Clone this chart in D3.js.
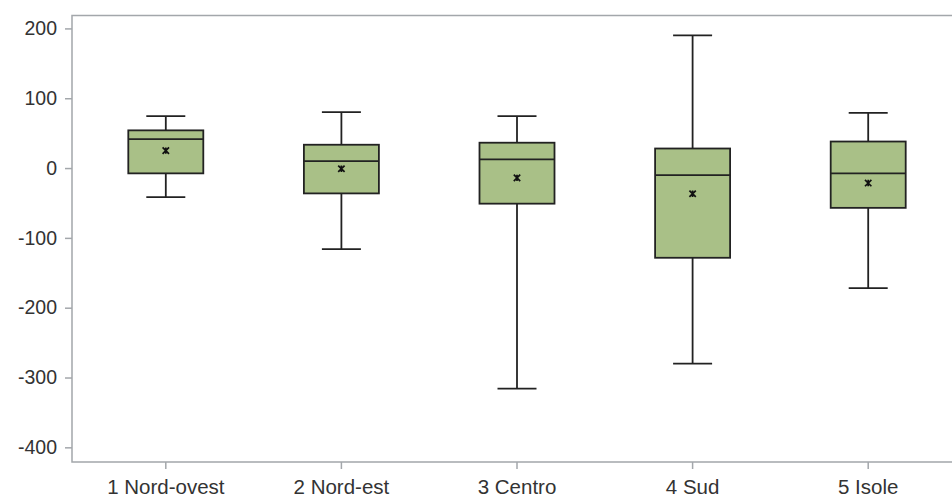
<!DOCTYPE html>
<html>
<head>
<meta charset="utf-8">
<script src="https://cdn.jsdelivr.net/npm/d3@7"></script>
<style>
  body { margin: 0; background: #fff; }
  svg { display: block; font-family: Roboto, "Noto Sans", sans-serif; }
</style>
</head>
<body>
<svg id="drawing_region"></svg>
<script>
// box statistics per region
const categories = ['1 Nord-ovest', '2 Nord-est', '3 Centro', '4 Sud', '5 Isole'];
const whiskerLow  = [-41.5, -116, -316, -280, -172];
const q1          = [-7.6, -36.3, -51, -128.5, -57];
const median      = [41.5, 10, 12.4, -10, -7.6];
const q3          = [54, 33.4, 36.3, 28, 38];
const whiskerHigh = [74.5, 80, 74.5, 190, 79];
const mean        = [25, -1, -14, -36.8, -21.5];
const yTicks = [200, 100, 0, -100, -200, -300, -400];

const data = categories.map((c, i) => ({
    name: c,
    lo: whiskerLow[i], q1: q1[i], med: median[i],
    q3: q3[i], hi: whiskerHigh[i], mean: mean[i]
}));

const width = 952, height = 497;
const margin = {top: 15.5, left: 72, bottom: 35};

const svg = d3.select('#drawing_region')
    .attr('width', width)
    .attr('height', height);

const x = d3.scaleBand()
    .domain(categories)
    .range([78, 956]);

const y = d3.scaleLinear()
    .domain([-421, 218.5])
    .range([height - margin.bottom, margin.top]);

const axisColor = '#a3a7ab';

// frame (top + left + bottom; right edge falls outside the window)
svg.append('path')
    .attr('d', `M${width + 10},${y(218.5)}H${margin.left}V${y(-421)}H${width + 10}`)
    .attr('fill', 'none')
    .attr('stroke', axisColor)
    .attr('stroke-width', 1.5);

// y axis
const yAxis = svg.append('g')
    .attr('transform', `translate(${margin.left},0)`)
    .call(d3.axisLeft(y).tickValues(yTicks).tickSize(7).tickPadding(8).tickFormat(d => String(d)));
yAxis.select('.domain').remove();
yAxis.selectAll('line').attr('stroke', axisColor).attr('stroke-width', 1.5);
yAxis.selectAll('text').attr('fill', '#333').style('font-size', '19.5px');

// x axis
const xAxis = svg.append('g')
    .attr('transform', `translate(0,${y(-421)})`)
    .call(d3.axisBottom(x).tickSize(7));
xAxis.select('.domain').remove();
xAxis.selectAll('line').attr('stroke', axisColor).attr('stroke-width', 1.5);
xAxis.selectAll('text')
    .attr('fill', '#333')
    .attr('y', 32)
    .attr('dy', 0)
    .style('font-size', '20.5px');

const boxW = 75, capW = 39;
const boxes = svg.append('g').selectAll('g')
    .data(data)
    .enter()
    .append('g')
    .attr('transform', d => `translate(${x(d.name) + x.bandwidth() / 2},0)`);

// whiskers
boxes.append('line')
    .attr('x1', 0).attr('x2', 0)
    .attr('y1', d => y(d.hi)).attr('y2', d => y(d.lo))
    .attr('stroke', '#222').attr('stroke-width', 1.8);
boxes.selectAll('.cap')
    .data(d => [d.lo, d.hi])
    .enter()
    .append('line')
    .attr('x1', -capW / 2).attr('x2', capW / 2)
    .attr('y1', v => y(v)).attr('y2', v => y(v))
    .attr('stroke', '#222').attr('stroke-width', 1.8);

// box
boxes.append('rect')
    .attr('x', -boxW / 2)
    .attr('width', boxW)
    .attr('y', d => y(d.q3))
    .attr('height', d => y(d.q1) - y(d.q3))
    .attr('fill', '#a9c087')
    .attr('stroke', '#222')
    .attr('stroke-width', 1.8);

// median
boxes.append('line')
    .attr('x1', -boxW / 2).attr('x2', boxW / 2)
    .attr('y1', d => y(d.med)).attr('y2', d => y(d.med))
    .attr('stroke', '#222').attr('stroke-width', 1.8);

// mean marker (asterisk)
const s = 3.2;
boxes.append('path')
    .attr('transform', d => `translate(0,${y(d.mean)})`)
    .attr('d', `M${-s},${-s}L${s},${s}M${-s},${s}L${s},${-s}M0,${-s}V${s}`)
    .attr('stroke', '#111')
    .attr('stroke-width', 1.7)
    .attr('fill', 'none');
</script>
</body>
</html>
